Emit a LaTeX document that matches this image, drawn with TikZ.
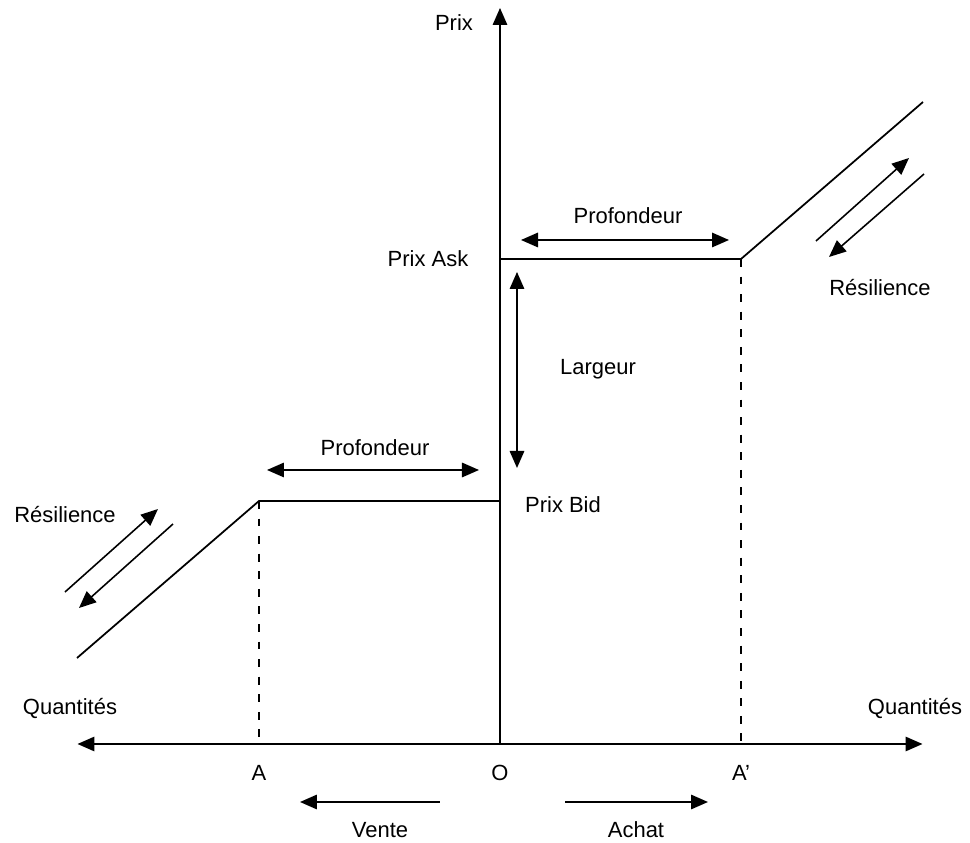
\documentclass[tikz,border=0pt]{standalone}
\usepackage{fontspec}
\setmainfont{Liberation Sans}
\usetikzlibrary{arrows.meta}

\tikzset{
  fleche/.style={line width=0.9pt, -{Triangle[length=3.4mm,width=2.9mm]}},
  double fleche/.style={line width=0.9pt, {Triangle[length=3.4mm,width=2.9mm]}-{Triangle[length=3.4mm,width=2.9mm]}},
  courbe/.style={line width=1pt},
  repere/.style={line width=1pt, dash pattern=on 4.5pt off 5.5pt},
  texte/.style={font=\fontsize{12.5}{15}\selectfont, inner sep=1pt}
}

\begin{document}
\begin{tikzpicture}
\useasboundingbox (-10,-1.98) rectangle (9.4,14.88);
% points of the order book
\coordinate (O) at (0,0);
\coordinate (A) at (-4.82,0);
\coordinate (Ap) at (4.82,0);
\coordinate (ask) at (0,9.7);
\coordinate (askfin) at (4.82,9.7);
\coordinate (bid) at (0,4.86);
\coordinate (bidfin) at (-4.82,4.86);
% axes
\draw[double fleche] (-8.45,0) -- (8.45,0);
\draw[fleche] (O) -- (0,14.72) coordinate (haut);
\node[texte] (prix) at (-0.92,14.42) {Prix};
\node[texte] (qg) at (-8.6,0.72) {Quantités};
\node[texte] (qd) at (8.3,0.72) {Quantités};
\node[texte] (labA) at (-4.82,-0.58) {A};
\node[texte] (labO) at (0,-0.58) {O};
\node[texte] (labAp) at (4.82,-0.58) {A’};
% offer curve
\draw[courbe] (bid) -- (ask) -- (askfin) -- (8.46,12.84);
\draw[courbe] (bid) -- (bidfin) -- (-8.46,1.72);
\draw[repere] (askfin) -- (Ap);
\draw[repere] (bidfin) -- (A);
\node[texte] (pask) at (-1.44,9.7) {Prix Ask};
\node[texte] (pbid) at (1.26,4.78) {Prix Bid};
% depth and width
\draw[double fleche] (0.42,10.08) -- (4.58,10.08);
\node[texte] (prof1) at (2.56,10.56) {Profondeur};
\draw[double fleche] (-4.66,5.48) -- (-0.42,5.48);
\node[texte] (prof2) at (-2.5,5.92) {Profondeur};
\draw[double fleche] (0.34,9.44) -- (0.34,5.52);
\node[texte] (larg) at (1.96,7.5) {Largeur};
% resilience
\draw[fleche] (6.32,10.06) -- (8.18,11.72);
\draw[fleche] (8.48,11.4) -- (6.58,9.74);
\node[texte] (res1) at (7.6,9.12) {Résilience};
\draw[fleche] (-8.7,3.04) -- (-6.84,4.7);
\draw[fleche] (-6.54,4.4) -- (-8.42,2.72);
\node[texte] (res2) at (-8.7,4.58) {Résilience};
% buy and sell
\draw[fleche] (-1.2,-1.16) -- (-4.0,-1.16);
\node[texte] (vente) at (-2.4,-1.72) {Vente};
\draw[fleche] (1.3,-1.16) -- (4.16,-1.16);
\node[texte] (achat) at (2.72,-1.72) {Achat};
\end{tikzpicture}
\end{document}
